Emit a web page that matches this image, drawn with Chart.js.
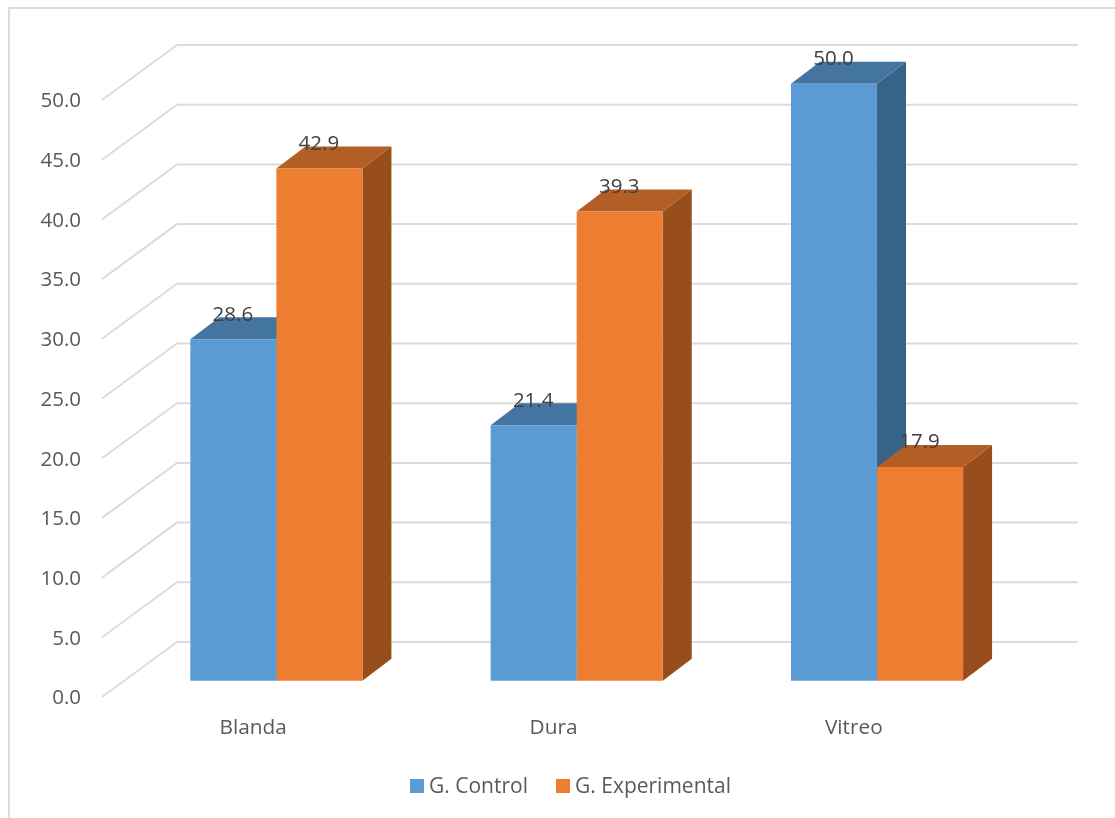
<!DOCTYPE html>
<html>
<head>
<meta charset="utf-8">
<style>html,body{margin:0;padding:0;background:#fff}canvas{display:block}</style>
<script src="https://cdn.jsdelivr.net/npm/chart.js@4/dist/chart.umd.js"></script>
</head>
<body>
<div style="position:relative;width:1115px;height:818px"><canvas id="c" width="1115" height="818"></canvas></div>
<script>
const categories = ['Blanda', 'Dura', 'Vitreo'];
const controlValues = [28.6, 21.4, 50.0];
const experimentalValues = [42.9, 39.3, 17.9];
const seriesNames = ['G. Control', 'G. Experimental'];

const FONT = '"Open Sans", sans-serif';
const BLUE = ['#5B9BD5', '#4475A0', '#386388'];
const ORANGE = ['#ED7D31', '#B25E25', '#974E1C'];
const FACES = [BLUE, ORANGE];
const GRID = '#DCDCDC';
const LABEL_DROP = 1.5;
const WALL = {dx: 74, dy: -55};
const BAR_SHIFT = {dx: 23.2, dy: -16.3 - LABEL_DROP};
const BAR_DEPTH = {dx: 29, dy: -22};

const scene = {
  id: 'scene',
  beforeDraw(chart) {
    const {ctx, chartArea: a, scales: {y}} = chart;
    ctx.save();
    ctx.strokeStyle = GRID;
    ctx.lineWidth = 2;
    ctx.beginPath();
    ctx.moveTo(9, 818); ctx.lineTo(9, 8); ctx.lineTo(1115, 8);
    ctx.stroke();
    y.ticks.forEach(t => {
      const py = y.getPixelForValue(t.value) - LABEL_DROP;
      ctx.beginPath();
      ctx.moveTo(a.left - 1, py);
      ctx.lineTo(a.left + WALL.dx, py + WALL.dy);
      ctx.lineTo(a.right + WALL.dx, py + WALL.dy);
      ctx.stroke();
    });
    ctx.restore();
  },
  beforeDatasetsDraw(chart) {
    const {ctx} = chart;
    ctx.save();
    ctx.translate(BAR_SHIFT.dx, BAR_SHIFT.dy);
    const d = BAR_DEPTH;
    chart.data.datasets.forEach((ds, i) => {
      chart.getDatasetMeta(i).data.forEach(b => {
        const l = b.x - b.width / 2, r = b.x + b.width / 2, t = b.y, bt = b.base;
        ctx.fillStyle = FACES[i][2];
        ctx.beginPath();
        ctx.moveTo(r, t); ctx.lineTo(r + d.dx, t + d.dy);
        ctx.lineTo(r + d.dx, bt + d.dy); ctx.lineTo(r, bt);
        ctx.closePath(); ctx.fill();
        ctx.fillStyle = FACES[i][1];
        ctx.beginPath();
        ctx.moveTo(l, t); ctx.lineTo(l + d.dx, t + d.dy);
        ctx.lineTo(r + d.dx, t + d.dy); ctx.lineTo(r, t);
        ctx.closePath(); ctx.fill();
      });
    });
  },
  afterDatasetsDraw(chart) {
    const {ctx} = chart;
    ctx.fillStyle = '#404040';
    ctx.font = '20.5px ' + FONT;
    ctx.textAlign = 'center';
    ctx.textBaseline = 'middle';
    chart.data.datasets.forEach((ds, i) => {
      chart.getDatasetMeta(i).data.forEach((b, j) => {
        ctx.fillText(ds.data[j].toFixed(1), b.x - 0.5, b.y - 24.5);
      });
    });
    ctx.restore();
  },
  afterDraw(chart) {
    const {ctx} = chart;
    ctx.save();
    ctx.font = '21px ' + FONT;
    ctx.textBaseline = 'middle';
    ctx.textAlign = 'left';
    const boxes = [410, 556];
    chart.data.datasets.forEach((ds, i) => {
      ctx.fillStyle = ds.backgroundColor;
      ctx.fillRect(boxes[i], 779, 14, 14);
      ctx.fillStyle = '#595959';
      ctx.fillText(ds.label, boxes[i] + 19, 787);
    });
    ctx.restore();
  }
};

new Chart(document.getElementById('c'), {
  type: 'bar',
  data: {
    labels: categories,
    datasets: [
      {label: seriesNames[0], data: controlValues, backgroundColor: BLUE[0]},
      {label: seriesNames[1], data: experimentalValues, backgroundColor: ORANGE[0]}
    ]
  },
  options: {
    responsive: false,
    animation: false,
    layout: {padding: {left: 0, right: 111, top: 100 + LABEL_DROP, bottom: 0}},
    datasets: {bar: {categoryPercentage: 0.573, barPercentage: 1, clip: false, borderWidth: 0}},
    plugins: {legend: {display: false}, title: {display: false}, tooltip: {enabled: false}},
    scales: {
      x: {
        grid: {display: false},
        border: {display: false},
        ticks: {color: '#595959', font: {family: FONT, size: 20.8}, padding: 11 - LABEL_DROP, maxRotation: 0},
        afterFit(s) { s.height = 121 - LABEL_DROP; }
      },
      y: {
        min: 0, max: 50,
        grid: {display: false},
        border: {display: false},
        ticks: {
          stepSize: 5,
          color: '#595959',
          font: {family: FONT, size: 20.5},
          padding: 14,
          callback: v => v.toFixed(1)
        },
        afterFit(s) { s.width = 103; }
      }
    }
  },
  plugins: [scene]
});
</script>
</body>
</html>
